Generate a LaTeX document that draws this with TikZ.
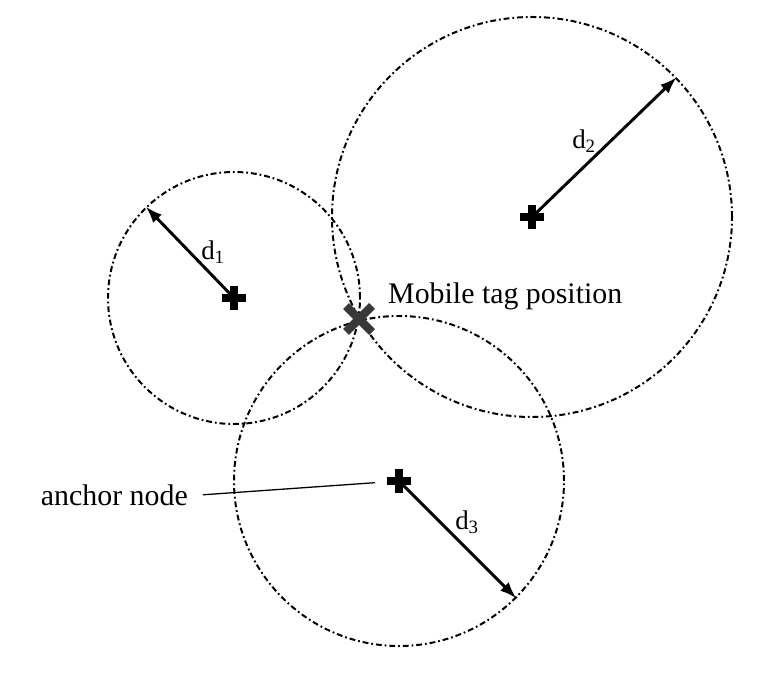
\documentclass[tikz,border=0pt]{standalone}
\usepackage{fontspec}
\setmainfont{Liberation Serif}
\usepackage{tikz}
\usetikzlibrary{arrows.meta}
\tikzset{rangecircle/.style={draw, circle, inner sep=0pt, line width=1.7pt, dash pattern=on 5pt off 2.5pt on 1.5pt off 2.5pt}}
\tikzset{dist/.style={-{Latex[length=0.5cm, width=0.36cm]}, line width=2.5pt}}
\newcommand{\fplus}[1]{\draw[line width=0.24cm] (#1) ++(-12,0) -- ++(24,0) (#1) ++(0,-12) -- ++(0,24);}
\newcommand{\ftag}[1]{\draw[line width=0.25cm, black!78] (#1) ++(-13,-13) -- ++(26,26) (#1) ++(-13,13) -- ++(26,-26);}

\begin{document}
\begin{tikzpicture}[x=0.03cm, y=-0.03cm, font=\fontsize{25.5}{30}\selectfont]
\useasboundingbox (0,0) rectangle (777,678);
\node[rangecircle, minimum size=7.56cm] (c1) at (234,298) {};
\node[rangecircle, minimum size=12cm] (c2) at (532,217) {};
\node[rangecircle, minimum size=9.9cm] (c3) at (399,481) {};
\draw[dist] (c1.center) -- (c1.134);
\draw[dist] (c2.center) -- (c2.44.5);
\draw[dist] (c3.center) -- (c3.-45);
\node[font=\fontsize{23}{26}\selectfont] (l1) at (213,252) {d\textsubscript{1}};
\node[font=\fontsize{23}{26}\selectfont] (l2) at (584,141) {d\textsubscript{2}};
\node[font=\fontsize{23}{26}\selectfont] (l3) at (467,522) {d\textsubscript{3}};
\fplus{c1.center}
\fplus{c2.center}
\fplus{c3.center}
\coordinate (tag) at (359,319);
\ftag{tag}
\node[anchor=base west, inner sep=0pt] (taglabel) at (388,303) {Mobile tag position};
\node[anchor=base east, inner xsep=0.45cm, inner ysep=0pt] (anchor) at (203,505) {anchor node};
\draw[line width=1.1pt, shorten >=0.72cm] (anchor.east) -- (c3.center);
\end{tikzpicture}
\end{document}
